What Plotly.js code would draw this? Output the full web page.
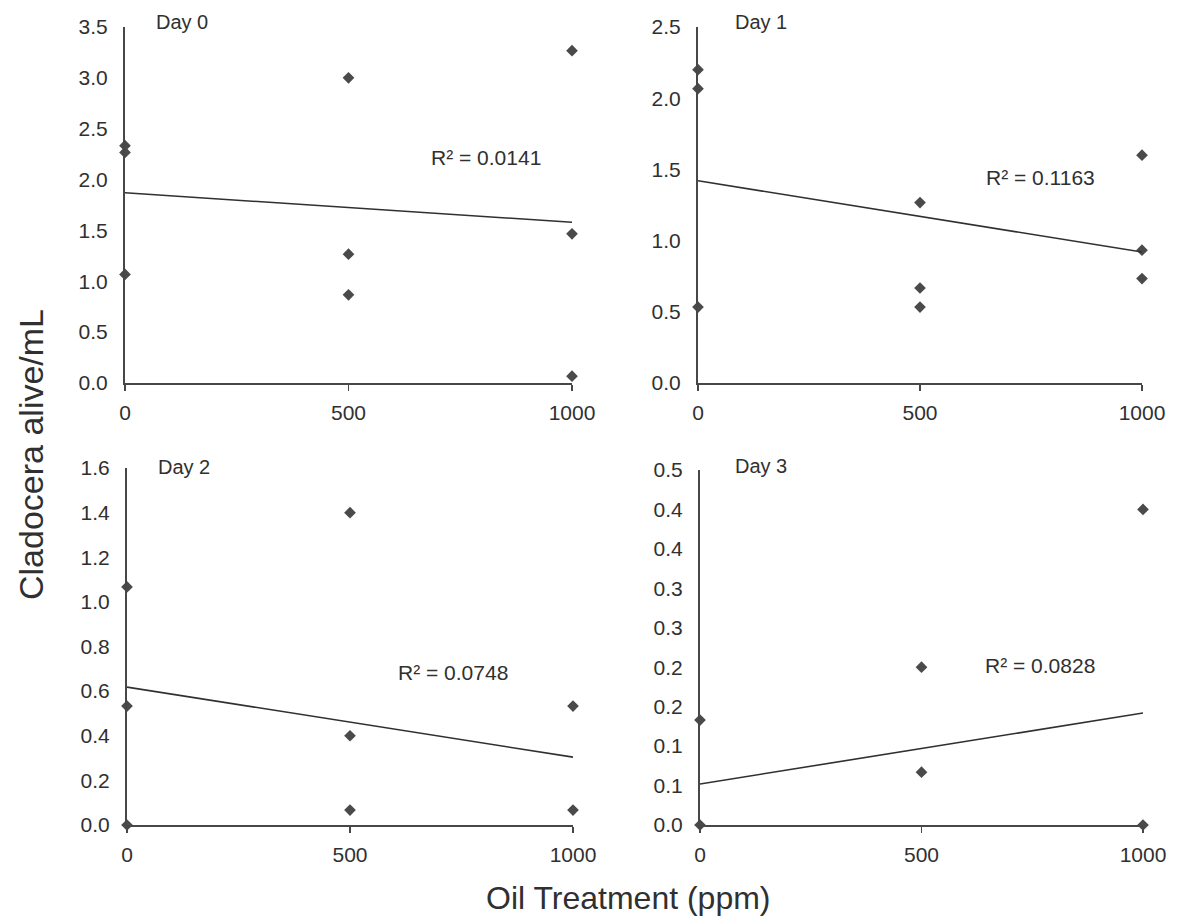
<!DOCTYPE html>
<html>
<head>
<meta charset="utf-8">
<script src="https://cdn.plot.ly/plotly-3.0.1.min.js"></script>
<style>
  html, body { margin: 0; padding: 0; background: #ffffff; }
  #chart { width: 1177px; height: 924px; }
</style>
</head>
<body>
<div id="chart"></div>
<script>
// ---------------- DATA ----------------
const xTicks = [0, 500, 1000];
const xTickLabels = ['0', '500', '1000'];

const day0X = [0, 0, 0, 500, 500, 500, 1000, 1000, 1000];
const day0Y = [2.333, 2.267, 1.067, 3.000, 1.267, 0.867, 3.267, 1.467, 0.067];
const day0TrendX = [0, 1000];
const day0TrendY = [1.87, 1.58];
const day0R2 = 'R² = 0.0141';

const day1X = [0, 0, 0, 500, 500, 500, 1000, 1000, 1000];
const day1Y = [2.200, 2.067, 0.533, 1.267, 0.667, 0.533, 1.600, 0.933, 0.733];
const day1TrendX = [0, 1000];
const day1TrendY = [1.42, 0.92];
const day1R2 = 'R² = 0.1163';

const day2X = [0, 0, 0, 500, 500, 500, 1000, 1000];
const day2Y = [1.067, 0.533, 0.000, 1.400, 0.400, 0.067, 0.533, 0.067];
const day2TrendX = [0, 1000];
const day2TrendY = [0.618, 0.304];
const day2R2 = 'R² = 0.0748';

const day3X = [0, 0, 500, 500, 1000, 1000];
const day3Y = [0.133, 0.000, 0.200, 0.067, 0.400, 0.000];
const day3TrendX = [0, 1000];
const day3TrendY = [0.052, 0.142];
const day3R2 = 'R² = 0.0828';

const panelNames = ['Day 0', 'Day 1', 'Day 2', 'Day 3'];
const day3TickVals = [0, 0.05, 0.10, 0.15, 0.20, 0.25, 0.30, 0.35, 0.40, 0.45];
const day3TickText = ['0.0', '0.1', '0.1', '0.2', '0.2', '0.3', '0.3', '0.4', '0.4', '0.5'];

const xTitle = 'Oil Treatment (ppm)';
const yTitle = 'Cladocera alive/mL';

// ---------------- LAYOUT HELPERS ----------------
const W = 1177, H = 924;
const px = v => v / W;
const py = v => 1 - v / H;

const FONT = 'Arial, "Liberation Sans", Helvetica, sans-serif';
const AX = '#474747';
const MK = '#4a4a4a';
const TXT = '#303030';

function scatter(x, y, xa, ya) {
  return {
    type: 'scatter', mode: 'markers', x: x, y: y, xaxis: xa, yaxis: ya,
    marker: { symbol: 'diamond', size: 9, color: MK, line: { width: 0 } },
    cliponaxis: false, showlegend: false, hoverinfo: 'x+y'
  };
}
function trend(x, y, xa, ya) {
  return {
    type: 'scatter', mode: 'lines', x: x, y: y, xaxis: xa, yaxis: ya,
    line: { color: '#303030', width: 1.6 },
    cliponaxis: false, showlegend: false, hoverinfo: 'skip'
  };
}

const data = [
  scatter(day0X, day0Y, 'x', 'y'),   trend(day0TrendX, day0TrendY, 'x', 'y'),
  scatter(day1X, day1Y, 'x2', 'y2'), trend(day1TrendX, day1TrendY, 'x2', 'y2'),
  scatter(day2X, day2Y, 'x3', 'y3'), trend(day2TrendX, day2TrendY, 'x3', 'y3'),
  scatter(day3X, day3Y, 'x4', 'y4'), trend(day3TrendX, day3TrendY, 'x4', 'y4')
];

function xaxis(d0, d1, anchor) {
  return {
    domain: [px(d0), px(d1)], anchor: anchor, range: [0, 1000],
    tickmode: 'array', tickvals: xTicks, ticktext: xTickLabels,
    showline: true, linecolor: AX, linewidth: 2,
    ticks: 'outside', ticklen: 6, tickwidth: 1.5, tickcolor: AX,
    ticklabelstandoff: 4,
    showgrid: false, zeroline: false,
    tickfont: { family: FONT, size: 21, color: TXT },
    fixedrange: true
  };
}
function yaxis(top, bottom, anchor, range, extra) {
  const a = {
    domain: [py(bottom), py(top)], anchor: anchor, range: range,
    showline: true, linecolor: AX, linewidth: 2,
    ticks: '', showgrid: false, zeroline: false,
    ticklabelstandoff: 11,
    tickformat: '.1f',
    tickfont: { family: FONT, size: 21, color: TXT },
    fixedrange: true
  };
  return Object.assign(a, extra || {});
}

function ann(text, x, y, size, xanchor, extra) {
  return Object.assign({
    text: text, xref: 'paper', yref: 'paper', x: px(x), y: py(y),
    xanchor: xanchor || 'center', yanchor: 'middle', showarrow: false,
    font: { family: FONT, size: size, color: TXT }
  }, extra || {});
}

const layout = {
  width: W, height: H,
  margin: { l: 0, r: 0, t: 0, b: 0 },
  paper_bgcolor: '#ffffff', plot_bgcolor: 'rgba(0,0,0,0)',
  showlegend: false,
  xaxis:  xaxis(125, 572, 'y'),
  yaxis:  yaxis(27, 383, 'x', [0, 3.5], { dtick: 0.5 }),
  xaxis2: xaxis(698, 1142, 'y2'),
  yaxis2: yaxis(27, 383, 'x2', [0, 2.5], { dtick: 0.5 }),
  xaxis3: xaxis(127, 573, 'y3'),
  yaxis3: yaxis(468, 825, 'x3', [0, 1.6], { dtick: 0.2 }),
  xaxis4: xaxis(700, 1143, 'y4'),
  yaxis4: yaxis(470, 825, 'x4', [0, 0.45],
           { tickmode: 'array', tickvals: day3TickVals, ticktext: day3TickText }),
  annotations: [
    ann(panelNames[0], 154, 22, 20, 'left'),
    ann(panelNames[1], 733, 22, 20, 'left'),
    ann(panelNames[2], 156, 467, 20, 'left'),
    ann(panelNames[3], 733, 466, 20, 'left'),
    ann(day0R2, 486, 157, 21),
    ann(day1R2, 1040, 178, 21),
    ann(day2R2, 453, 672, 21),
    ann(day3R2, 1040, 665, 21),
    ann(xTitle, 628, 898, 32),
    ann(yTitle, 31, 455, 34, 'center', { textangle: -90 })
  ]
};

Plotly.newPlot('chart', data, layout, { displayModeBar: false, staticPlot: true });
</script>
</body>
</html>
